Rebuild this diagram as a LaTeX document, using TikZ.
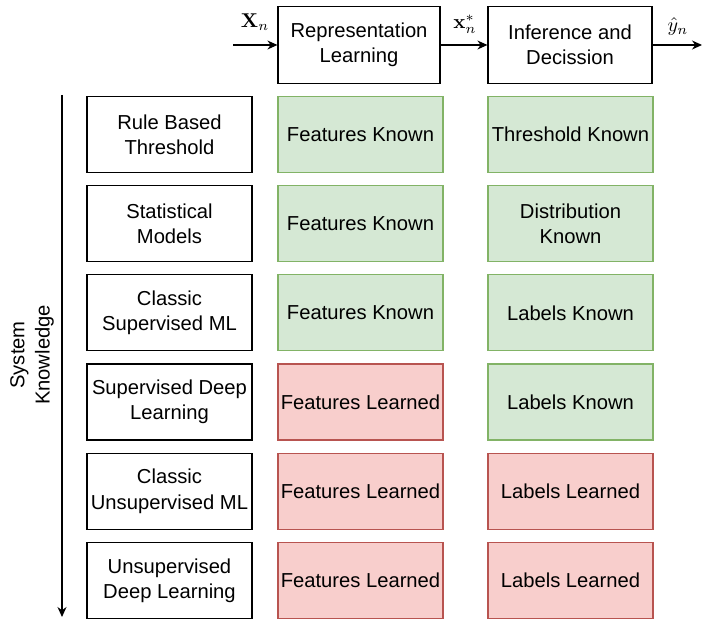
\documentclass[tikz,border=0pt]{standalone}
\usepackage[no-math]{fontspec}
\setmainfont{Liberation Sans}
\usetikzlibrary{arrows.meta}

\definecolor{knownfill}{HTML}{D5E8D4}
\definecolor{knownline}{HTML}{82B366}
\definecolor{learnfill}{HTML}{F8CECC}
\definecolor{learnline}{HTML}{B85450}

\begin{document}
\begin{tikzpicture}[x=0.5pt, y=-0.5pt, font=\fontsize{10.1}{12.6}\selectfont,
  box/.style={draw, line width=0.6pt, align=center, minimum width=82.5pt, minimum height=38pt, inner sep=1pt},
  known/.style={box, draw=knownline, fill=knownfill},
  learned/.style={box, draw=learnline, fill=learnfill},
  flow/.style={-{Stealth[length=5pt, width=4.5pt]}, line width=0.6pt}]
  \useasboundingbox (0,0) rectangle (702,619);
  % pipeline on top
  \node[box, minimum width=81pt, minimum height=38.5pt] (rep) at (359,45) {Representation\\Learning};
  \node[box, minimum width=82pt, minimum height=38.5pt] (dec) at (570,45) {Inference and\\Decission};
  \coordinate (in) at (233,45);
  \coordinate (out) at (702,45);
  \draw[flow] (in) -- (rep);
  \draw[flow] (rep) -- (dec);
  \draw[flow] (dec) -- (out);
  \node (xin) at (255,22) {$\mathbf{X}_n$};
  \node (xrep) at (465,24) {$\mathbf{x}_n^*$};
  \node (yout) at (678,27) {$\hat{y}_n$};
  % knowledge axis
  \coordinate (k-top) at (62,95);
  \coordinate (k-bot) at (62,617);
  \draw[flow] (k-top) -- (k-bot);
  \node[rotate=90, align=center] (know) at (32,355) {System\\Knowledge};
  % rows
  \foreach \i/\sys/\rep/\dec/\rs/\ds in {
      1/{Rule Based\\Threshold}/{Features Known}/{Threshold Known}/known/known,
      2/{Statistical\\Models}/{Features Known}/{Distribution\\Known}/known/known,
      3/{Classic\\Supervised ML}/{Features Known}/{Labels Known}/known/known,
      4/{Supervised Deep\\Learning}/{Features Learned}/{Labels Known}/learned/known,
      5/{Classic\\Unsupervised ML}/{Features Learned}/{Labels Learned}/learned/learned,
      6/{Unsupervised\\Deep Learning}/{Features Learned}/{Labels Learned}/learned/learned} {
    \node[box] (sys-\i) at (169.5, {134.5+89.2*(\i-1)}) {\sys};
    \node[\rs] (rep-\i) at (360.5, {134.5+89.2*(\i-1)}) {\rep};
    \node[\ds] (dec-\i) at (570.5, {134.5+89.2*(\i-1)}) {\dec};
  }
\end{tikzpicture}
\end{document}
